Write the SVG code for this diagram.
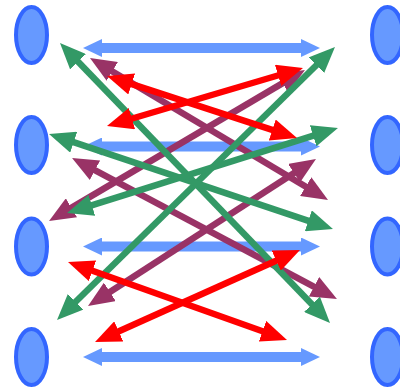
<svg xmlns="http://www.w3.org/2000/svg" width="400" height="388" viewBox="0 0 400 388">
  <style>
    .node { fill: #6699ff; stroke: #3366ff; stroke-width: 4; }
    .blue { stroke: #6699ff; stroke-width: 10; fill: none; marker-start: url(#hb); marker-end: url(#hb); }
    .green { stroke: #339966; stroke-width: 6.5; fill: none; marker-start: url(#hg); marker-end: url(#hg); }
    .purple { stroke: #993366; stroke-width: 6.5; fill: none; marker-start: url(#hp); marker-end: url(#hp); }
    .red { stroke: #ff0000; stroke-width: 6.5; fill: none; marker-start: url(#hr); marker-end: url(#hr); }
  </style>
  <defs>
    <marker id="hb" viewBox="0 0 19 18" refX="7" refY="9" markerWidth="19" markerHeight="18" markerUnits="userSpaceOnUse" orient="auto-start-reverse">
      <path d="M0,0 L19,9 L0,18 z" fill="#6699ff"/>
    </marker>
    <marker id="hg" viewBox="0 0 26 22" refX="12" refY="11" markerWidth="26" markerHeight="22" markerUnits="userSpaceOnUse" orient="auto-start-reverse">
      <path d="M0,0 L26,11 L0,22 z" fill="#339966"/>
    </marker>
    <marker id="hp" viewBox="0 0 26 22" refX="12" refY="11" markerWidth="26" markerHeight="22" markerUnits="userSpaceOnUse" orient="auto-start-reverse">
      <path d="M0,0 L26,11 L0,22 z" fill="#993366"/>
    </marker>
    <marker id="hr" viewBox="0 0 26 22" refX="12" refY="11" markerWidth="26" markerHeight="22" markerUnits="userSpaceOnUse" orient="auto-start-reverse">
      <path d="M0,0 L26,11 L0,22 z" fill="#ff0000"/>
    </marker>
  </defs>
  <rect width="400" height="388" fill="#ffffff"/>

  <!-- left column -->
  <g id="L1"><ellipse class="node" cx="31.5" cy="35" rx="15.5" ry="28"/></g>
  <g id="L2"><ellipse class="node" cx="31.5" cy="145" rx="15.5" ry="28"/></g>
  <g id="L3"><ellipse class="node" cx="31.5" cy="246.5" rx="15.5" ry="28"/></g>
  <g id="L4"><ellipse class="node" cx="31.5" cy="357" rx="15.5" ry="28"/></g>
  <!-- right column -->
  <g id="R1"><ellipse class="node" cx="387.5" cy="35" rx="15.5" ry="28"/></g>
  <g id="R2"><ellipse class="node" cx="387.5" cy="145" rx="15.5" ry="28"/></g>
  <g id="R3"><ellipse class="node" cx="387.5" cy="246.5" rx="15.5" ry="28"/></g>
  <g id="R4"><ellipse class="node" cx="387.5" cy="357" rx="15.5" ry="28"/></g>

  <g id="connectors">
    <!-- horizontal links -->
    <line class="blue" x1="95" y1="48" x2="308" y2="48"/>
    <line class="blue" x1="95" y1="146.5" x2="308" y2="146.5"/>
    <line class="blue" x1="95" y1="246.5" x2="308" y2="246.5"/>
    <line class="blue" x1="95" y1="357" x2="308" y2="357"/>
    <!-- purple diagonals -->
    <line class="purple" x1="102" y1="65.2" x2="316" y2="192.8"/>
    <line class="purple" x1="292.9" y1="77.1" x2="61.1" y2="213.9"/>
    <line class="purple" x1="84.4" y1="164.6" x2="324.6" y2="292.4"/>
    <line class="purple" x1="304.2" y1="166.6" x2="99.8" y2="298.4"/>
    <!-- green diagonals -->
    <line class="green" x1="69.7" y1="53.1" x2="320.3" y2="312.9"/>
    <line class="green" x1="325" y1="56.8" x2="67" y2="310.2"/>
    <line class="green" x1="62.3" y1="138.4" x2="319.7" y2="224.6"/>
    <line class="green" x1="324.6" y1="132.2" x2="80.4" y2="208.8"/>
    <!-- red diagonals -->
    <line class="red" x1="120.3" y1="80.3" x2="283.7" y2="133.7"/>
    <line class="red" x1="120.4" y1="122" x2="289.6" y2="72"/>
    <line class="red" x1="81.2" y1="266.7" x2="273.8" y2="335.3"/>
    <line class="red" x1="107.8" y1="336.3" x2="287.2" y2="255.7"/>
  </g>
</svg>
